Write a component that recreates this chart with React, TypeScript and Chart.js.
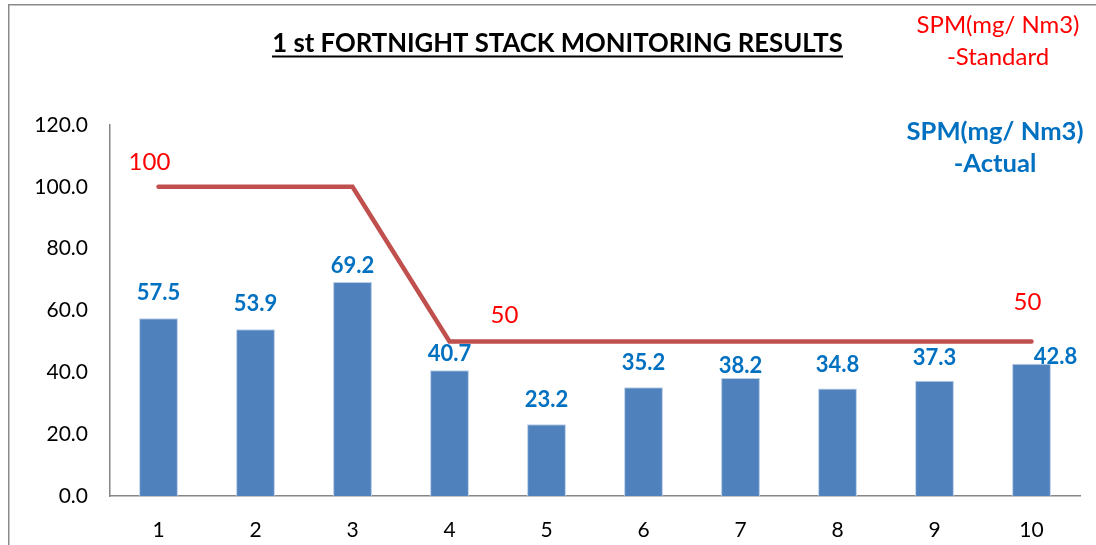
import React, { useEffect, useRef } from 'react';
import { Chart, registerables } from 'chart.js';

Chart.register(...registerables);

const categories = ['1', '2', '3', '4', '5', '6', '7', '8', '9', '10'];
const actualValues = [57.5, 53.9, 69.2, 40.7, 23.2, 35.2, 38.2, 34.8, 37.3, 42.8];
const standardValues = [100, 100, 100, 50, 50, 50, 50, 50, 50, 50];
const yMin = 0;
const yMax = 120;
const yStep = 20;
const titleText = '1 st FORTNIGHT STACK MONITORING RESULTS';
const standardLegend = ['SPM(mg/ Nm3)', '-Standard'];
const actualLegend = ['SPM(mg/ Nm3)', '-Actual'];
const standardLabelIndices = [0, 3, 9];

// label placement tweaks (pixels, style only)
const barLabelDy = [-26, -26, -17, -17, -25, -25, -13, -25, -24, -8];
const barLabelDx = [0, 0, 0, 0, 0, 0, 0, 0, 0, 24];
const lineLabelOffsets: Record<number, [number, number]> = { 0: [-9, -25], 3: [55, -26], 9: [-4, -39] };

const FONT = 'Lato, "Open Sans", sans-serif';

function fitText(ctx: CanvasRenderingContext2D, text: string, weight: string, cx: number, baseline: number, targetW: number, color: string) {
  ctx.font = `${weight} 20px ${FONT}`;
  const w = ctx.measureText(text).width;
  const size = (20 * targetW) / w;
  ctx.font = `${weight} ${size}px ${FONT}`;
  ctx.fillStyle = color;
  ctx.textAlign = 'center';
  ctx.textBaseline = 'alphabetic';
  ctx.fillText(text, cx, baseline);
  return size;
}

const overlayPlugin = {
  id: 'overlay',
  afterDraw(chart: any) {
    const ctx: CanvasRenderingContext2D = chart.ctx;
    ctx.save();
    // frame
    ctx.strokeStyle = '#8a8a8a';
    ctx.lineWidth = 1.5;
    ctx.strokeRect(8.75, 4.75, 1200, 700);

    // title
    fitText(ctx, titleText, 'bold', 557.5, 52, 571, '#000000');
    ctx.fillStyle = '#000000';
    ctx.fillRect(272, 55.5, 571, 2);

    // legend texts
    fitText(ctx, standardLegend[0], 'normal', 998, 33, 163, '#FF0000');
    ctx.fillText(standardLegend[1], 998, 65);
    fitText(ctx, actualLegend[0], 'bold', 995, 140, 177, '#0070C0');
    ctx.fillText(actualLegend[1], 995, 172);

    // bar labels
    const barMeta = chart.getDatasetMeta(0);
    ctx.font = `bold 22px ${FONT}`;
    ctx.fillStyle = '#0070C0';
    ctx.textAlign = 'center';
    ctx.textBaseline = 'middle';
    barMeta.data.forEach((el: any, i: number) => {
      ctx.fillText(actualValues[i].toFixed(1), el.x + barLabelDx[i], el.y + barLabelDy[i] + 1);
    });

    // standard line labels
    const lineMeta = chart.getDatasetMeta(1);
    ctx.font = `normal 24px ${FONT}`;
    ctx.fillStyle = '#FF0000';
    standardLabelIndices.forEach((i) => {
      const el = lineMeta.data[i];
      const [dx, dy] = lineLabelOffsets[i] || [0, -25];
      ctx.fillText(String(standardValues[i]), el.x + dx, el.y + dy);
    });
    ctx.restore();
  },
};

export default function App() {
  const ref = useRef<HTMLCanvasElement | null>(null);
  useEffect(() => {
    document.body.style.margin = '0';
    document.body.style.background = '#ffffff';
    const canvas = ref.current;
    if (!canvas) return;
    const chart = new Chart(canvas, {
      type: 'bar',
      data: {
        labels: categories,
        datasets: [
          {
            type: 'bar',
            label: 'SPM(mg/ Nm3) -Actual',
            data: actualValues,
            backgroundColor: '#4F81BD',
            borderColor: '#B9CDE5',
            borderWidth: 1,
            barPercentage: 0.4,
            categoryPercentage: 1,
            order: 1,
          },
          {
            type: 'line',
            label: 'SPM(mg/ Nm3) -Standard',
            data: standardValues,
            borderColor: '#C0504D',
            borderWidth: 4.5,
            borderCapStyle: 'round',
            borderJoinStyle: 'miter',
            pointRadius: 0,
            tension: 0,
            fill: false,
            order: 0,
          },
        ],
      },
      options: {
        responsive: false,
        animation: false,
        devicePixelRatio: 1,
        layout: { padding: { top: 125, right: 16, bottom: 0, left: 0 } },
        plugins: {
          legend: { display: false },
          title: { display: false },
          tooltip: { enabled: false },
        },
        scales: {
          x: {
            grid: { display: false, drawTicks: false },
            border: { display: true, color: '#868686', width: 1.5 },
            ticks: { color: '#000000', font: { family: FONT, size: 21 }, padding: 22 },
            afterFit: (s: any) => { s.height = 49; },
          },
          y: {
            min: yMin,
            max: yMax,
            grid: { display: false, drawTicks: false },
            border: { display: true, color: '#868686', width: 1.5 },
            ticks: {
              stepSize: yStep,
              color: '#000000',
              font: { family: FONT, size: 21 },
              padding: 22,
              callback: (v: any) => Number(v).toFixed(1),
            },
            afterFit: (s: any) => { s.width = 110; },
          },
        },
      },
      plugins: [overlayPlugin],
    } as any);
    return () => chart.destroy();
  }, []);
  return (
    <div style={{ width: 1096, height: 545 }}>
      <canvas ref={ref} width={1096} height={545} style={{ display: 'block' }} />
    </div>
  );
}
